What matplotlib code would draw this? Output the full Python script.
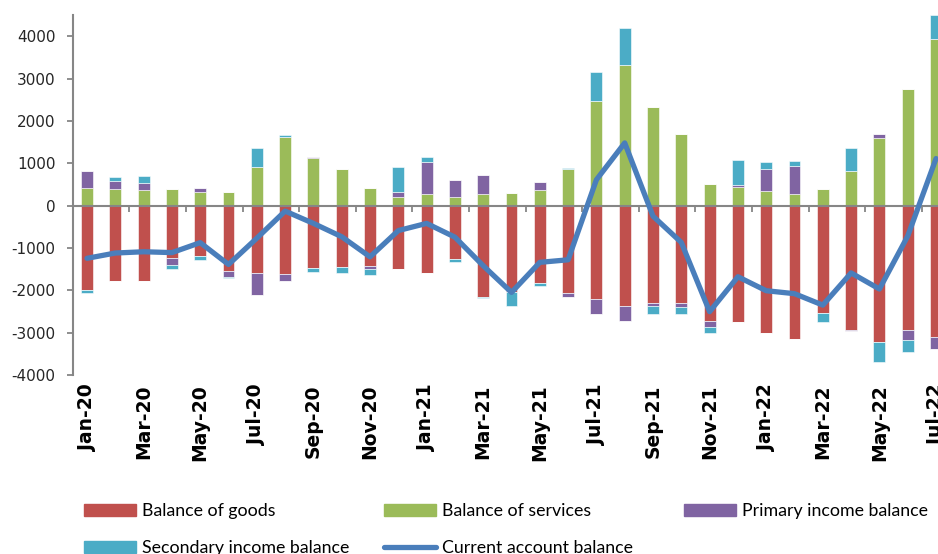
import matplotlib
matplotlib.use("Agg")
import matplotlib.pyplot as plt
import numpy as np
from matplotlib.patches import Patch
from matplotlib.lines import Line2D

months = ["Jan-20", "Feb-20", "Mar-20", "Apr-20", "May-20", "Jun-20", "Jul-20", "Aug-20",
          "Sep-20", "Oct-20", "Nov-20", "Dec-20", "Jan-21", "Feb-21", "Mar-21", "Apr-21",
          "May-21", "Jun-21", "Jul-21", "Aug-21", "Sep-21", "Oct-21", "Nov-21", "Dec-21",
          "Jan-22", "Feb-22", "Mar-22", "Apr-22", "May-22", "Jun-22", "Jul-22"]

goods = [-2000, -1780, -1780, -1240, -1185, -1540, -1585, -1615,
         -1485, -1445, -1430, -1505, -1580, -1250, -2150, -2040,
         -1820, -2075, -2215, -2370, -2310, -2310, -2725, -2755,
         -3015, -3150, -2545, -2940, -3215, -2940, -3095]
services = [405, 390, 360, 385, 330, 330, 915, 1610,
            1130, 870, 415, 210, 270, 210, 270, 295,
            360, 855, 2475, 3315, 2325, 1690, 505, 445,
            350, 270, 385, 815, 1600, 2750, 3930]
primary = [410, 180, 180, -155, 85, -140, -535, -165,
           25, 0, -65, 120, 755, 395, 455, 0,
           205, -95, -345, -345, -65, -80, -135, 40,
           520, 675, 0, -30, 95, -235, -290]
secondary = [-60, 95, 155, -105, -110, -30, 450, 45,
             -85, -155, -135, 575, 120, -85, -25, -320,
             -80, 25, 670, 880, -190, -175, -155, 590,
             150, 110, -210, 545, -470, -275, 565]
current_account = [-1245, -1120, -1090, -1110, -875, -1390, -770, -130,
                   -420, -735, -1210, -590, -420, -745, -1420, -2050,
                   -1340, -1280, 610, 1480, -250, -870, -2505, -1680,
                   -2010, -2080, -2350, -1590, -1970, -720, 1110]

series = [("Balance of goods", goods, "#C0504D"),
          ("Balance of services", services, "#9BBB59"),
          ("Primary income balance", primary, "#8064A2"),
          ("Secondary income balance", secondary, "#4BACC6")]
line_label = "Current account balance"
line_color = "#4A7EBB"

fig = plt.figure(figsize=(9.38, 5.54), dpi=100)
ax = fig.add_axes([73 / 938, 1 - 375 / 554, 1 - 73 / 938, (375 - 15) / 554])

x = np.arange(len(months))
pos_base = np.zeros(len(months))
neg_base = np.zeros(len(months))
width = 0.42
for name, vals, col in series:
    v = np.array(vals, dtype=float)
    pos = np.where(v > 0, v, 0)
    neg = np.where(v < 0, v, 0)
    ax.bar(x, pos, width, bottom=pos_base, color=col, edgecolor="white", linewidth=0.4, zorder=2)
    ax.bar(x, neg, width, bottom=neg_base, color=col, edgecolor="white", linewidth=0.4, zorder=2)
    pos_base += pos
    neg_base += neg

ax.plot(x, current_account, color=line_color, linewidth=3.8, solid_joinstyle="round",
        solid_capstyle="round", zorder=4)

ax.set_xlim(-0.495, 30.07)
ax.set_ylim(-4000, 4500)
ax.set_yticks(np.arange(-4000, 4001, 1000))
ax.set_yticklabels([str(v) for v in range(-4000, 4001, 1000)])

gray = "#868686"
for s in ["top", "right"]:
    ax.spines[s].set_visible(False)
ax.spines["left"].set_color(gray)
ax.spines["left"].set_linewidth(1.5)
ax.spines["bottom"].set_position(("data", 0))
ax.spines["bottom"].set_color(gray)
ax.spines["bottom"].set_linewidth(1.5)
ax.spines["bottom"].set_zorder(3)

ax.set_xticks(np.arange(1.5, 30, 2))
ax.tick_params(axis="x", direction="out", length=4.5, width=1.3, color=gray, labelbottom=False)
ax.tick_params(axis="y", direction="out", length=4.5, width=1.3, color=gray, pad=8,
               labelsize=11, labelcolor="#262626")

sec = ax.secondary_xaxis(0.0)
sec.set_xticks(x[::2])
sec.set_xticklabels(months[::2], rotation=90, fontweight="bold", fontsize=13.5)
sec.tick_params(length=0, pad=7)
sec.spines["bottom"].set_visible(False)

leg_font = {"family": "Lato", "size": 12.8}
cols = [
    (84, [Patch(color="#C0504D"), Patch(color="#4BACC6")], ["Balance of goods", "Secondary income balance"]),
    (384, [Patch(color="#9BBB59"), Line2D([], [], color=line_color, linewidth=3.8, solid_capstyle="round")],
     ["Balance of services", line_label]),
    (684, [Patch(color="#8064A2")], ["Primary income balance"]),
]
for xp, hs, ls in cols:
    fig.legend(hs, ls, loc="upper left", bbox_to_anchor=(xp / 938, 1 - 503 / 554),
               frameon=False, borderpad=0, borderaxespad=0, handlelength=2.95,
               handleheight=0.65, handletextpad=0.33, labelspacing=1.2, prop=leg_font)

fig.savefig("out.png", dpi=100)
